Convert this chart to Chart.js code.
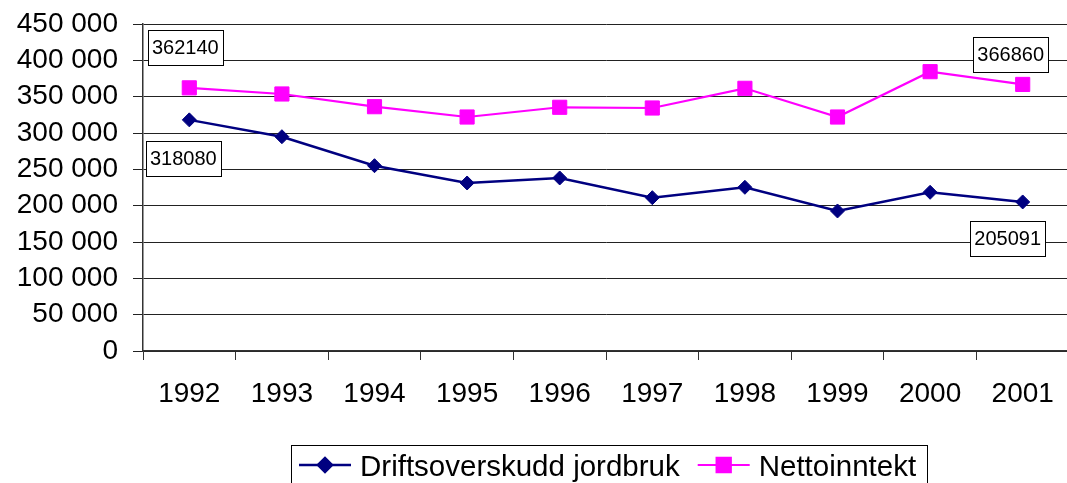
<!DOCTYPE html>
<html>
<head>
<meta charset="utf-8">
<title>Driftsoverskudd og nettoinntekt</title>
<script src="https://cdn.jsdelivr.net/npm/chart.js@4/dist/chart.umd.min.js"></script>
<style>
  html, body { margin: 0; padding: 0; background: #fff; overflow: hidden; }
  #wrap { width: 1080px; height: 483px; }
</style>
</head>
<body>
<div id="wrap"><canvas id="chart" width="1080" height="483"></canvas></div>
<script>
// chart data
const years = ['1992', '1993', '1994', '1995', '1996', '1997', '1998', '1999', '2000', '2001'];
const driftsoverskudd = [318080, 294900, 255000, 231200, 238100, 211000, 225300, 192700, 218400, 205091];
const nettoinntekt = [362140, 353700, 336200, 322000, 335400, 334400, 361500, 322000, 384400, 366860];
const yTicksMax = 450000;
const yTicksStep = 50000;

const FONT = '"Liberation Sans", Arial, sans-serif';

// boxed value labels on first / last point (offsets from the point)
const valueLabels = [
    { dataset: 1, index: 0, dx: -4, dy: -40 },
    { dataset: 0, index: 0, dx: -6, dy: 39 },
    { dataset: 1, index: 9, dx: -12, dy: -30 },
    { dataset: 0, index: 9, dx: -15, dy: 37 }
];

function formatThousands(v) {
    return String(v).replace(/\B(?=(\d{3})+(?!\d))/g, ' ');
}

const valueLabelPlugin = {
    id: 'valueLabels',
    afterDatasetsDraw(chart) {
        const ctx = chart.ctx;
        ctx.save();
        ctx.font = '20px ' + FONT;
        ctx.textAlign = 'center';
        ctx.textBaseline = 'middle';
        valueLabels.forEach(l => {
            const pt = chart.getDatasetMeta(l.dataset).data[l.index];
            const text = String(chart.data.datasets[l.dataset].data[l.index]);
            const cx = pt.x + l.dx;
            const cy = pt.y + l.dy;
            const w = ctx.measureText(text).width + 8;
            const h = 35;
            ctx.fillStyle = '#fff';
            ctx.fillRect(Math.round(cx - w / 2) + 0.5, Math.round(cy - h / 2) + 0.5, Math.round(w), h);
            ctx.strokeStyle = '#000';
            ctx.lineWidth = 1;
            ctx.strokeRect(Math.round(cx - w / 2) + 0.5, Math.round(cy - h / 2) + 0.5, Math.round(w), h);
            ctx.fillStyle = '#000';
            ctx.fillText(text, cx, cy + 1);
        });
        ctx.restore();
    }
};

// legend drawn in a box below the axis, centred on the plot area
const boxLegendPlugin = {
    id: 'boxLegend',
    afterDraw(chart) {
        const ctx = chart.ctx;
        const area = chart.chartArea;
        const lineLen = 52, gapText = 9, gapItem = 18, padL = 8, padR = 11;
        ctx.save();
        ctx.font = '29.5px ' + FONT;
        const items = chart.data.datasets.map(ds => ({ ds, w: ctx.measureText(ds.label).width }));
        let total = padL + padR;
        items.forEach((it, i) => { total += lineLen + gapText + it.w + (i ? gapItem : 0); });
        const left = Math.round((area.left + area.right) / 2 - total / 2) + 3;
        const top = 445, cy = 465;
        ctx.strokeStyle = '#000';
        ctx.lineWidth = 1;
        ctx.strokeRect(left + 0.5, top + 0.5, Math.round(total), 60);
        let x = left + padL;
        items.forEach((it, i) => {
            if (i) x += gapItem;
            const ds = it.ds;
            ctx.strokeStyle = ds.borderColor;
            ctx.lineWidth = ds.borderWidth;
            ctx.beginPath();
            ctx.moveTo(x, cy);
            ctx.lineTo(x + lineLen, cy);
            ctx.stroke();
            ctx.fillStyle = ds.pointBackgroundColor;
            ctx.strokeStyle = ds.pointBorderColor;
            Chart.helpers.drawPoint(ctx, {
                pointStyle: ds.pointStyle,
                radius: ds.pointRadius,
                rotation: 0,
                borderWidth: ds.pointBorderWidth
            }, x + lineLen / 2, cy);
            x += lineLen + gapText;
            ctx.fillStyle = '#000';
            ctx.textAlign = 'left';
            ctx.textBaseline = 'alphabetic';
            ctx.fillText(ds.label, x, 476);
            x += it.w;
        });
        ctx.restore();
    }
};

new Chart(document.getElementById('chart').getContext('2d'), {
    type: 'line',
    data: {
        labels: years,
        datasets: [
            {
                label: 'Driftsoverskudd jordbruk',
                data: driftsoverskudd,
                borderColor: '#000080',
                borderWidth: 2.5,
                pointStyle: 'rectRot',
                pointRadius: 7,
                pointBackgroundColor: '#000080',
                pointBorderColor: '#000080',
                pointBorderWidth: 1,
                tension: 0
            },
            {
                label: 'Nettoinntekt',
                data: nettoinntekt,
                borderColor: '#FF00FF',
                borderWidth: 2.2,
                pointStyle: 'rect',
                pointRadius: 10,
                pointBackgroundColor: '#FF00FF',
                pointBorderColor: '#FF00FF',
                pointBorderWidth: 1,
                tension: 0
            }
        ]
    },
    options: {
        responsive: false,
        animation: false,
        layout: { padding: { top: 24, right: 2, bottom: 0, left: 0 } },
        plugins: {
            legend: { display: false },
            tooltip: { enabled: false }
        },
        scales: {
            x: {
                offset: true,
                grid: {
                    offset: true,
                    drawOnChartArea: false,
                    tickLength: 9,
                    color: '#333',
                    lineWidth: 1
                },
                border: { color: '#333', width: 1.5 },
                ticks: {
                    color: '#000',
                    font: { family: FONT, size: 28 },
                    padding: 17,
                    maxRotation: 0,
                    autoSkip: false
                },
                afterFit(scale) {
                    scale.height = 132;
                    scale.paddingLeft = 0;
                    scale.paddingRight = 0;
                }
            },
            y: {
                min: 0,
                max: yTicksMax,
                grid: {
                    color: '#222',
                    lineWidth: 1,
                    tickLength: 10
                },
                border: { color: '#333', width: 1.5 },
                ticks: {
                    stepSize: yTicksStep,
                    autoSkip: false,
                    color: '#000',
                    font: { family: FONT, size: 28 },
                    padding: 15,
                    callback: v => formatThousands(v)
                },
                afterFit(scale) {
                    scale.width = 143;
                    scale.paddingTop = 0;
                    scale.paddingBottom = 0;
                }
            }
        }
    },
    plugins: [valueLabelPlugin, boxLegendPlugin]
});
</script>
</body>
</html>
